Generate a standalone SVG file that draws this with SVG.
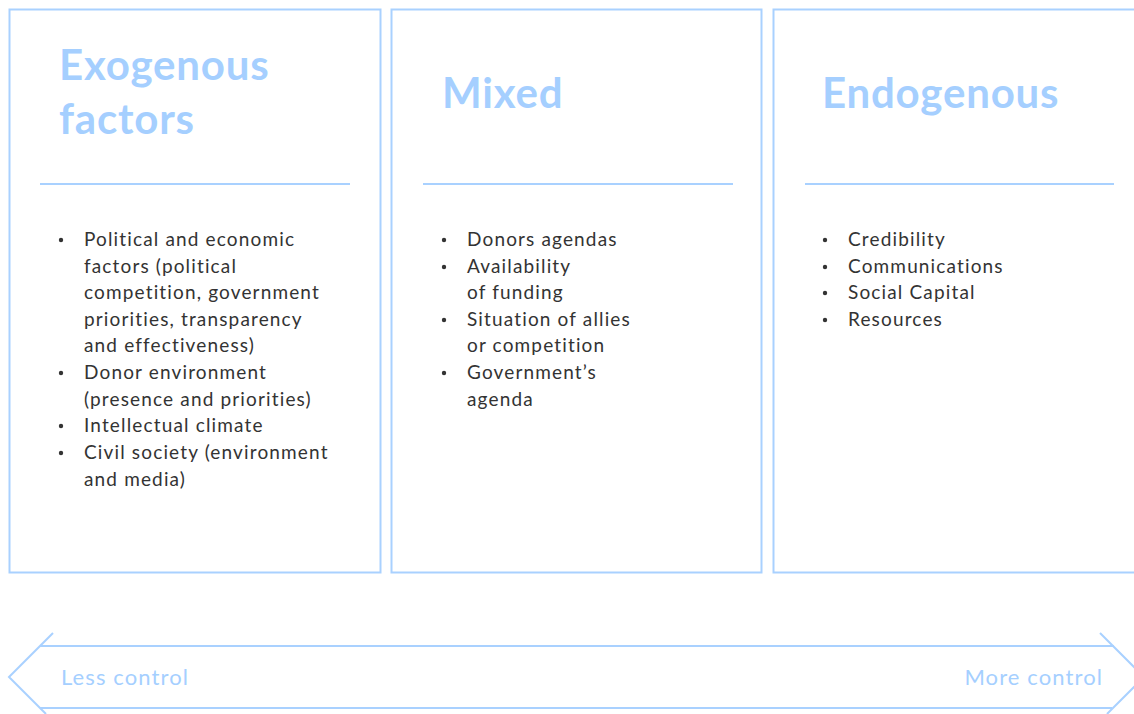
<svg xmlns="http://www.w3.org/2000/svg" width="1134" height="714" viewBox="0 0 1134 714">
<style>
.box{fill:#fff;stroke:#a9d1ff;stroke-width:2}
.sep{stroke:#a9d1ff;stroke-width:2}
.h{font-family:Lato,"Open Sans",sans-serif;font-weight:bold;font-size:42px;letter-spacing:0.8px;fill:#a5cfff}
.t{font-family:Lato,"Open Sans",sans-serif;font-size:19px;letter-spacing:1.15px;fill:#333}
.b{fill:#333}
.c{font-family:Lato,"Open Sans",sans-serif;font-size:22px;letter-spacing:1.1px;fill:#a5cfff}
.arr{fill:none;stroke:#a9d1ff;stroke-width:2}
</style>
<rect width="1134" height="714" fill="#fff"/>
<g id="exogenous">
<rect class="box" x="9.5" y="9.5" width="371" height="563"/>
<text class="h" x="59" y="80">Exogenous</text>
<text class="h" x="59" y="134">factors</text>
<line class="sep" x1="40" y1="184" x2="350" y2="184"/>
<g class="t">
<text x="84" y="246">Political and economic</text>
<text x="84" y="273">factors (political</text>
<text x="84" y="299">competition, government</text>
<text x="84" y="326">priorities, transparency</text>
<text x="84" y="352">and effectiveness)</text>
<text x="84" y="379">Donor environment</text>
<text x="84" y="406">(presence and priorities)</text>
<text x="84" y="432">Intellectual climate</text>
<text x="84" y="459">Civil society (environment</text>
<text x="84" y="486">and media)</text>
</g>
<circle class="b" cx="61" cy="240" r="2.2"/>
<circle class="b" cx="61" cy="373" r="2.2"/>
<circle class="b" cx="61" cy="426" r="2.2"/>
<circle class="b" cx="61" cy="453" r="2.2"/>
</g>
<g id="mixed">
<rect class="box" x="391.5" y="9.5" width="370" height="563"/>
<text class="h" x="442" y="108">Mixed</text>
<line class="sep" x1="423" y1="184" x2="733" y2="184"/>
<g class="t">
<text x="467" y="246">Donors agendas</text>
<text x="467" y="273">Availability</text>
<text x="467" y="299">of funding</text>
<text x="467" y="326">Situation of allies</text>
<text x="467" y="352">or competition</text>
<text x="467" y="379">Government’s</text>
<text x="467" y="406">agenda</text>
</g>
<circle class="b" cx="444" cy="240" r="2.2"/>
<circle class="b" cx="444" cy="267" r="2.2"/>
<circle class="b" cx="444" cy="320" r="2.2"/>
<circle class="b" cx="444" cy="373" r="2.2"/>
</g>
<g id="endogenous">
<rect class="box" x="773.5" y="9.5" width="380" height="563"/>
<text class="h" x="822" y="108">Endogenous</text>
<line class="sep" x1="805" y1="184" x2="1114" y2="184"/>
<g class="t">
<text x="848" y="246">Credibility</text>
<text x="848" y="273">Communications</text>
<text x="848" y="299">Social Capital</text>
<text x="848" y="326">Resources</text>
</g>
<circle class="b" cx="825" cy="240" r="2.2"/>
<circle class="b" cx="825" cy="267" r="2.2"/>
<circle class="b" cx="825" cy="293" r="2.2"/>
<circle class="b" cx="825" cy="320" r="2.2"/>
</g>
<g id="connectors">
<path class="arr" d="M53,633 L9,677 L46,714"/>
<path class="arr" d="M40,646 H1114"/>
<path class="arr" d="M40,708 H1112"/>
<path class="arr" d="M1100,633 L1144,677 L1107,714"/>
<text class="c" x="61" y="685">Less control</text>
<text class="c" x="1103" y="685" text-anchor="end">More control</text>
</g>
</svg>
